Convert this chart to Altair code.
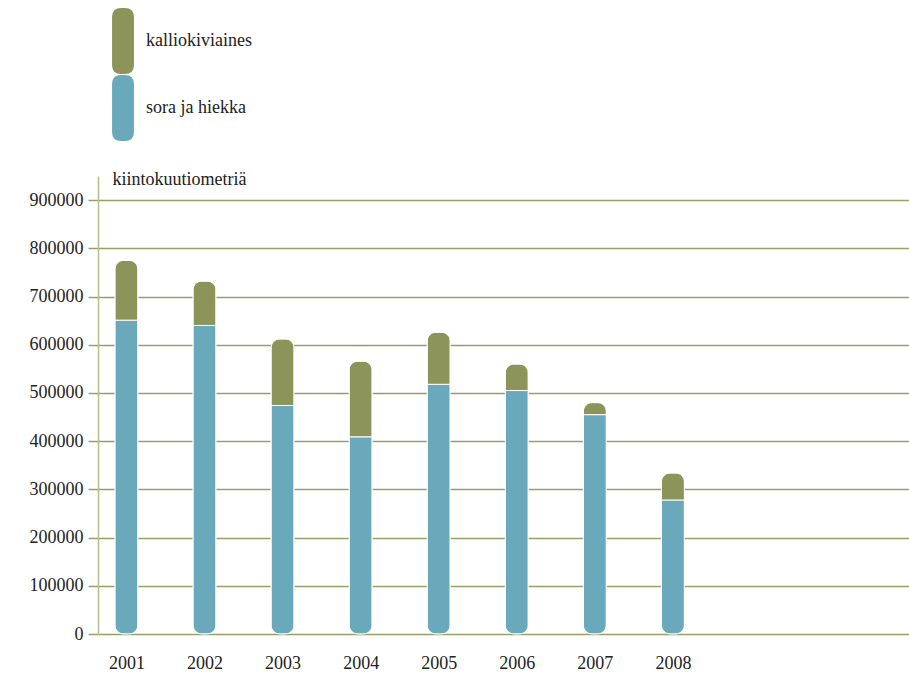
import altair as alt
import pandas as pd

years = [2001, 2002, 2003, 2004, 2005, 2006, 2007, 2008]
sora_ja_hiekka = [651000, 640000, 474000, 409000, 518000, 505000, 455000, 278000]
kalliokiviaines = [124000, 92000, 138000, 157000, 108000, 55000, 25000, 56000]
series = ["kalliokiviaines", "sora ja hiekka"]
colors = ["#8c945a", "#6aa9bb"]
y_ticks = [0, 100000, 200000, 300000, 400000, 500000, 600000, 700000, 800000, 900000]

rows = []
for y, s, k in zip(years, sora_ja_hiekka, kalliokiviaines):
    rows.append({"vuosi": y, "laji": "sora ja hiekka", "arvo": s, "ord": 0})
    rows.append({"vuosi": y, "laji": "kalliokiviaines", "arvo": k, "ord": 1})
df = pd.DataFrame(rows)

FONT = "Liberation Serif"
GRID = "#98a068"
# path in units where the symbol box (size 900 -> 30 px) spans -1..1
symbol_path = ("M -0.73,-1.6 Q -0.73,-2.2 -0.13,-2.2 L 0.13,-2.2 Q 0.73,-2.2 0.73,-1.6 "
               "L 0.73,1.6 Q 0.73,2.2 0.13,2.2 L -0.13,2.2 Q -0.73,2.2 -0.73,1.6 Z")

chart = alt.Chart(df).mark_bar(size=23, cornerRadius=9, stroke="white", strokeWidth=1).encode(
    x=alt.X("vuosi:Q",
            scale=alt.Scale(domain=[2000.7, 2010.96], nice=False, zero=False),
            axis=alt.Axis(values=years, format="d", title=None, grid=False, domain=False,
                          ticks=False, labelPadding=20, labelFont=FONT, labelFontSize=18,
                          labelColor="#222")),
    y=alt.Y("arvo:Q", stack="zero",
            scale=alt.Scale(domain=[0, 950000], nice=False),
            axis=alt.Axis(values=y_ticks, format="d", title="kiintokuutiometriä",
                          titleAngle=0, titleAlign="left", titleBaseline="alphabetic",
                          titleX=14, titleY=8, titleFont=FONT, titleFontSize=18,
                          titleFontWeight="normal", titleColor="#222",
                          grid=True, gridColor=GRID, gridWidth=1.5, gridOpacity=1,
                          tickColor=GRID, tickSize=10, tickWidth=1.5,
                          domainColor="#b8bc90", domainWidth=1.5,
                          labelFont=FONT, labelFontSize=18, labelColor="#222",
                          labelPadding=5)),
    color=alt.Color("laji:N",
                    scale=alt.Scale(domain=series, range=colors),
                    legend=alt.Legend(orient="none", legendX=10, legendY=-150, title=None,
                                      symbolType=symbol_path, symbolSize=900,
                                      symbolStrokeWidth=0, symbolOpacity=1,
                                      rowPadding=1, labelOffset=8,
                                      labelFont=FONT, labelFontSize=18, labelColor="#222")),
    order=alt.Order("ord:Q"),
).properties(
    width=811, height=458,
    autosize=alt.AutoSizeParams(type="none"),
    padding={"left": 98, "top": 176, "right": 0, "bottom": 47},
).configure(
    background="white", font=FONT
).configure_view(stroke=None)

chart.save("out.html", embed_options={"renderer": "svg", "actions": False})
